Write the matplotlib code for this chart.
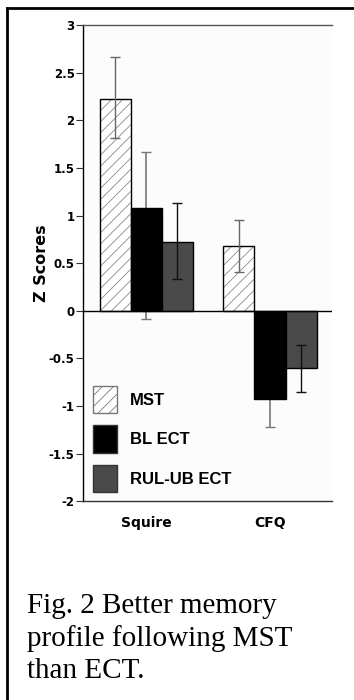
import numpy as np
import matplotlib
matplotlib.use('Agg')
from matplotlib import pyplot as plt
from matplotlib.patches import Patch
from matplotlib.lines import Line2D

# data
measures = ['Squire', 'CFQ']
groups = ['MST', 'BL ECT', 'RUL-UB ECT']
mst = [2.23, 0.685]
bl_ect = [1.08, -0.93]
rul_ect = [0.72, -0.60]
mst_err_lo = [0.42, 0.275]
mst_err_hi = [0.44, 0.27]
bl_err_lo = [1.17, 0.29]
bl_err_hi = [0.59, 0.29]
rul_err_lo = [0.39, 0.25]
rul_err_hi = [0.41, 0.245]
yticks = [3, 2.5, 2, 1.5, 1, 0.5, 0, -0.5, -1, -1.5, -2]
caption = 'Fig. 2 Better memory\nprofile following MST\nthan ECT.'

plt.rcParams['hatch.linewidth'] = 0.6

fig = plt.figure(figsize=(3.54, 7.0), dpi=100)
ax = fig.add_axes([0.2345, 0.284, 0.703, 0.680])

x = np.arange(len(measures))
w = 0.251

# MST: white bars with grey hatch, black outline
ax.bar(x - w, mst, w, color='white', edgecolor='#888888', linewidth=0,
       hatch='///', zorder=2)
ax.bar(x - w, mst, w, color='none', edgecolor='black', linewidth=1, zorder=2)
ax.bar(x, bl_ect, w, color='black', edgecolor='black', linewidth=1, zorder=2)
ax.bar(x + w, rul_ect, w, color='#4a4a4a', edgecolor='black', linewidth=1, zorder=2)

ax.errorbar(x - w, mst, yerr=[mst_err_lo, mst_err_hi], fmt='none',
            ecolor='#666666', elinewidth=1, capsize=3.6, zorder=3)
# BL ECT whiskers sit behind the black bars
ax.errorbar(x, bl_ect, yerr=[bl_err_lo, bl_err_hi], fmt='none',
            ecolor='#777777', elinewidth=1.2, capsize=3.6, zorder=1)
ax.errorbar(x + w, rul_ect, yerr=[rul_err_lo, rul_err_hi], fmt='none',
            ecolor='#111111', elinewidth=1, capsize=3.6, zorder=3)

ax.axhline(0, color='black', linewidth=1, zorder=4)

ax.set_xlim(-0.51, 1.5)
ax.set_ylim(-2, 3)
ax.set_yticks(yticks)
ax.set_yticklabels([f'{t:g}' for t in yticks], fontsize=8.5, fontweight='bold')
ax.tick_params(axis='y', length=5, width=0.8, pad=1, color='#333333')
ax.set_xticks(x)
ax.set_xticklabels(measures, fontsize=10, fontweight='bold')
ax.tick_params(axis='x', length=0, pad=11)

ax.set_ylabel('Z Scores', fontsize=11.5, fontweight='bold')
ax.yaxis.set_label_coords(-0.135, 0.5)

ax.spines['right'].set_visible(False)
ax.spines['left'].set_color('black')
ax.spines['top'].set_color('#555555')
ax.spines['bottom'].set_color('#333333')
for s in ['left', 'top', 'bottom']:
    ax.spines[s].set_linewidth(1)
ax.set_facecolor('#fcfcfc')

handles = [
    Patch(facecolor='white', edgecolor='#777777', hatch='///', label=groups[0]),
    Patch(facecolor='black', edgecolor='#333333', label=groups[1]),
    Patch(facecolor='#4a4a4a', edgecolor='#333333', label=groups[2]),
]
leg = fig.legend(handles=handles, loc='upper left', bbox_to_anchor=(0.263, 0.4486),
                 frameon=False, borderpad=0, borderaxespad=0,
                 handlelength=1.44, handleheight=2.15, labelspacing=0.72,
                 handletextpad=0.78,
                 prop={'family': 'Liberation Sans', 'weight': 'bold', 'size': 12})

fig.text(0.076, 1 - 593 / 700, caption, family='Liberation Serif', fontsize=21,
         va='top', ha='left', linespacing=1.3)

# outer frame (top and left edges only are visible)
fig.add_artist(Line2D([7 / 354, 7 / 354], [0, 1 - 8 / 700], color='black', linewidth=2,
                      transform=fig.transFigure))
fig.add_artist(Line2D([7 / 354, 1], [1 - 8 / 700, 1 - 8 / 700], color='black', linewidth=2,
                      transform=fig.transFigure))

fig.savefig('out.png', dpi=100)
